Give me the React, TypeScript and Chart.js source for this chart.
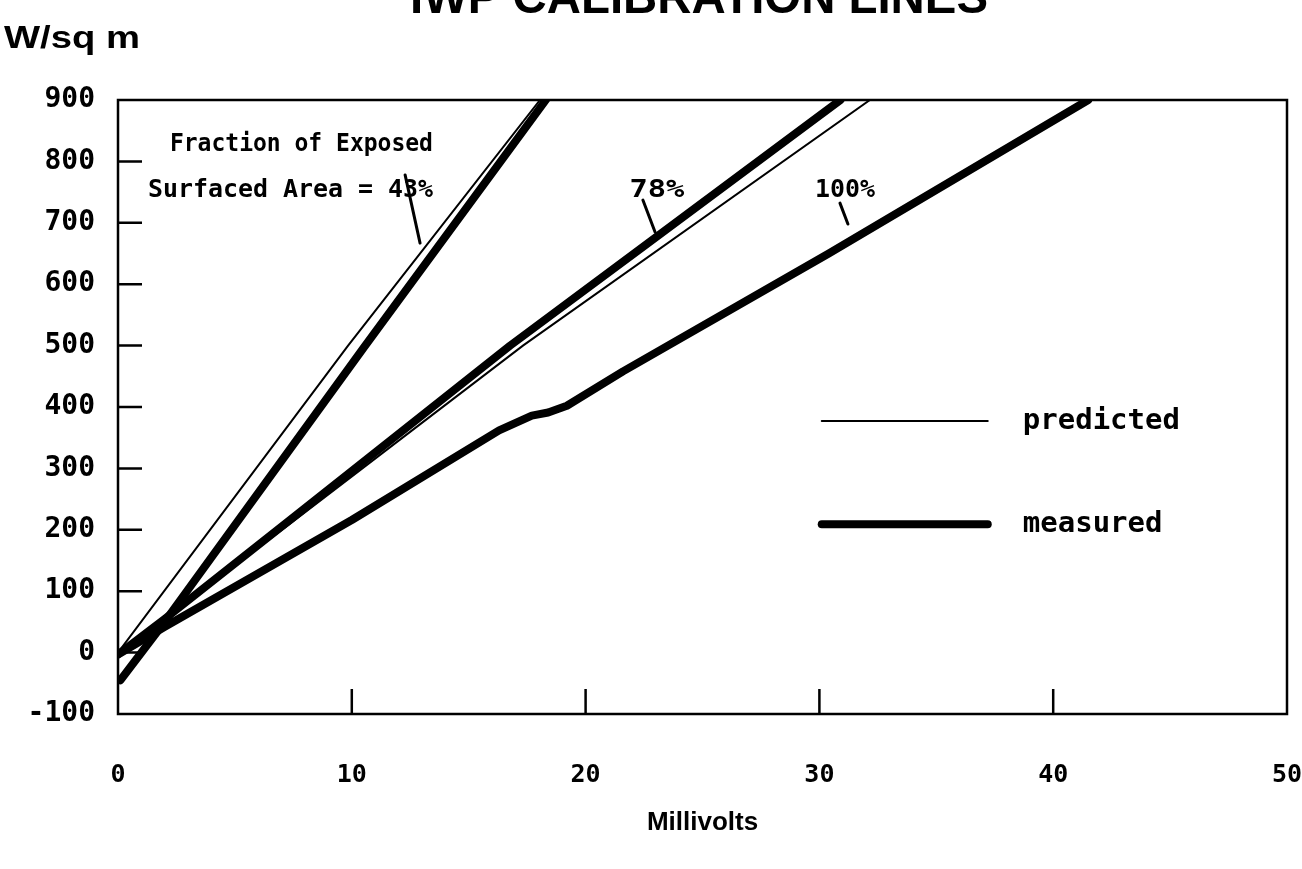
import React, { useEffect, useRef } from "react";
import { Chart, registerables } from "chart.js";

Chart.register(...registerables);

// ---- data ----
const xTickLabels = ["0", "10", "20", "30", "40", "50"];
const yTickValues = [-100, 0, 100, 200, 300, 400, 500, 600, 700, 800, 900];

const pred43X = [0, 9.84, 18.05];
const pred43Y = [0, 500, 900];
const meas43X = [0.1, 1.8, 10.48, 18.3];
const meas43Y = [-45, 40, 495, 900];

const pred78X = [0, 7.36, 17.32, 32.16];
const pred78Y = [0, 210, 500, 900];
const meas78X = [0, 2, 7.36, 16.77, 22.75, 30.9];
const meas78Y = [-3, 55, 216, 500, 669, 900];

const meas100X = [0, 2, 10, 16.3, 17.7, 18.4, 19.2, 21.6, 30.4, 41.5];
const meas100Y = [-3, 42, 216, 362, 386, 391, 402, 458, 650, 900];

// annotations (data units)
const annoText = ["Fraction of Exposed", "Surfaced Area = 43%", "78%", "100%"];
const annoX = [13.47, 13.47, 23.05, 31.1];
const annoY = [827, 753, 753, 753];
const annoAlign = ["right", "right", "center", "center"];
const leaderX1 = [12.28, 22.45, 30.88];
const leaderY1 = [778, 737, 732];
const leaderX2 = [12.92, 22.97, 31.22];
const leaderY2 = [667, 685, 698];

const legendLabels = ["predicted", "measured"];
const legendWidths = [2, 8];
const legendYValues = [377, 209];
const legendX1 = 30.1;
const legendX2 = 37.2;
const legendTextX = 38.7;

const pts = (xs: number[], ys: number[]) => xs.map((x, i) => ({ x, y: ys[i] }));

const fitText = (ctx: CanvasRenderingContext2D, text: string, x: number, y: number, width: number, align: string) => {
  const w = ctx.measureText(text).width;
  const k = width / w;
  ctx.save();
  let left = x;
  if (align === "right") left = x - width;
  else if (align === "center") left = x - width / 2;
  ctx.translate(left, y);
  ctx.scale(k, 1);
  ctx.textAlign = "left";
  ctx.fillText(text, 0, 0);
  ctx.restore();
};

const overlay = {
  id: "overlay",
  afterDatasetsDraw(chart: any) {
    const { ctx, chartArea: a, scales } = chart;
    const xs = scales.x;
    const ys = scales.y;
    ctx.save();
    ctx.strokeStyle = "#000";
    ctx.fillStyle = "#000";
    // frame
    ctx.lineWidth = 2.5;
    ctx.strokeRect(a.left, a.top, a.right - a.left, a.bottom - a.top);
    // inner ticks
    ctx.beginPath();
    for (let v = 10; v <= 40; v += 10) {
      const px = xs.getPixelForValue(v);
      ctx.moveTo(px, a.bottom);
      ctx.lineTo(px, a.bottom - 25);
    }
    for (let v = 0; v <= 800; v += 100) {
      const py = ys.getPixelForValue(v);
      ctx.moveTo(a.left, py);
      ctx.lineTo(a.left + 24, py);
    }
    ctx.stroke();
    // leaders
    ctx.lineWidth = 3;
    ctx.lineCap = "round";
    ctx.beginPath();
    for (let i = 0; i < leaderX1.length; i++) {
      ctx.moveTo(xs.getPixelForValue(leaderX1[i]), ys.getPixelForValue(leaderY1[i]));
      ctx.lineTo(xs.getPixelForValue(leaderX2[i]), ys.getPixelForValue(leaderY2[i]));
    }
    ctx.stroke();
    // annotation text
    ctx.font = "bold 25px 'DejaVu Sans Mono'";
    ctx.textBaseline = "middle";
    const annoWidths = [263, 285, 55, 60];
    for (let i = 0; i < annoText.length; i++) {
      fitText(ctx, annoText[i], xs.getPixelForValue(annoX[i]), ys.getPixelForValue(annoY[i]), annoWidths[i], annoAlign[i]);
    }
    // legend
    ctx.lineCap = "round";
    for (let i = 0; i < legendLabels.length; i++) {
      const py = ys.getPixelForValue(legendYValues[i]);
      ctx.lineWidth = legendWidths[i];
      ctx.beginPath();
      ctx.moveTo(xs.getPixelForValue(legendX1), py);
      ctx.lineTo(xs.getPixelForValue(legendX2), py);
      ctx.stroke();
      ctx.font = "bold 29px 'DejaVu Sans Mono'";
      ctx.textAlign = "left";
      ctx.fillText(legendLabels[i], xs.getPixelForValue(legendTextX), py);
    }
    // title (partly cut off at the top)
    ctx.textBaseline = "alphabetic";
    ctx.font = "bold 48px 'Liberation Sans'";
    fitText(ctx, "IWP CALIBRATION LINES", 699, 13, 578, "center");
    // y unit label
    ctx.font = "bold 32px 'Liberation Sans'";
    fitText(ctx, "W/sq m", 4, 48, 136, "left");
    ctx.restore();
  },
};

export default function App() {
  const ref = useRef<HTMLCanvasElement>(null);
  useEffect(() => {
    const thick = { borderColor: "#000", borderWidth: 8, pointRadius: 0, showLine: true, borderCapStyle: "round", borderJoinStyle: "round", tension: 0 };
    const thin = { borderColor: "#000", borderWidth: 2, pointRadius: 0, showLine: true, borderCapStyle: "round", tension: 0 };
    const chart = new Chart(ref.current as HTMLCanvasElement, {
      type: "scatter",
      data: {
        datasets: [
          { label: "measured 43%", data: pts(meas43X, meas43Y), ...thick },
          { label: "measured 78%", data: pts(meas78X, meas78Y), ...thick },
          { label: "measured 100%", data: pts(meas100X, meas100Y), ...thick },
          { label: "predicted 43%", data: pts(pred43X, pred43Y), ...thin },
          { label: "predicted 78%", data: pts(pred78X, pred78Y), ...thin },
        ] as any,
      },
      options: {
        animation: false,
        responsive: false,
        maintainAspectRatio: false,
        layout: { padding: { left: 0, right: 15, top: 100, bottom: 0 } },
        plugins: { legend: { display: false }, tooltip: { enabled: false }, title: { display: false } },
        scales: {
          x: {
            type: "linear",
            min: 0,
            max: 50,
            grid: { display: false, drawTicks: false },
            border: { display: false },
            ticks: {
              stepSize: 10,
              padding: 46,
              color: "#000",
              font: { family: "'DejaVu Sans Mono'", size: 25, weight: "bold" },
              maxRotation: 0,
              callback: (v: any) => xTickLabels[Math.round(Number(v) / 10)] ?? "",
            },
            title: {
              display: true,
              text: "Millivolts",
              color: "#000",
              font: { family: "'Liberation Sans'", size: 26, weight: "bold" },
              padding: { top: 0, bottom: 31 },
            },
            afterFit: (s: any) => { s.height = 155; s.paddingLeft = 0; s.paddingRight = 0; },
          },
          y: {
            type: "linear",
            min: -100,
            max: 900,
            grid: { display: false, drawTicks: false },
            border: { display: false },
            afterBuildTicks: (s: any) => { s.ticks = yTickValues.map((v) => ({ value: v })); },
            ticks: {
              padding: 23,
              color: "#000",
              font: { family: "'DejaVu Sans Mono'", size: 28, weight: "bold" },
              callback: (v: any) => String(v),
            },
            afterFit: (s: any) => { s.width = 118; s.paddingTop = 0; s.paddingBottom = 0; },
          },
        },
      } as any,
      plugins: [overlay],
    });
    return () => chart.destroy();
  }, []);
  return (
    <div style={{ position: "fixed", left: 0, top: 0, width: 1302, height: 869, background: "#fff" }}>
      <canvas ref={ref} width={1302} height={869} style={{ display: "block" }} />
    </div>
  );
}
